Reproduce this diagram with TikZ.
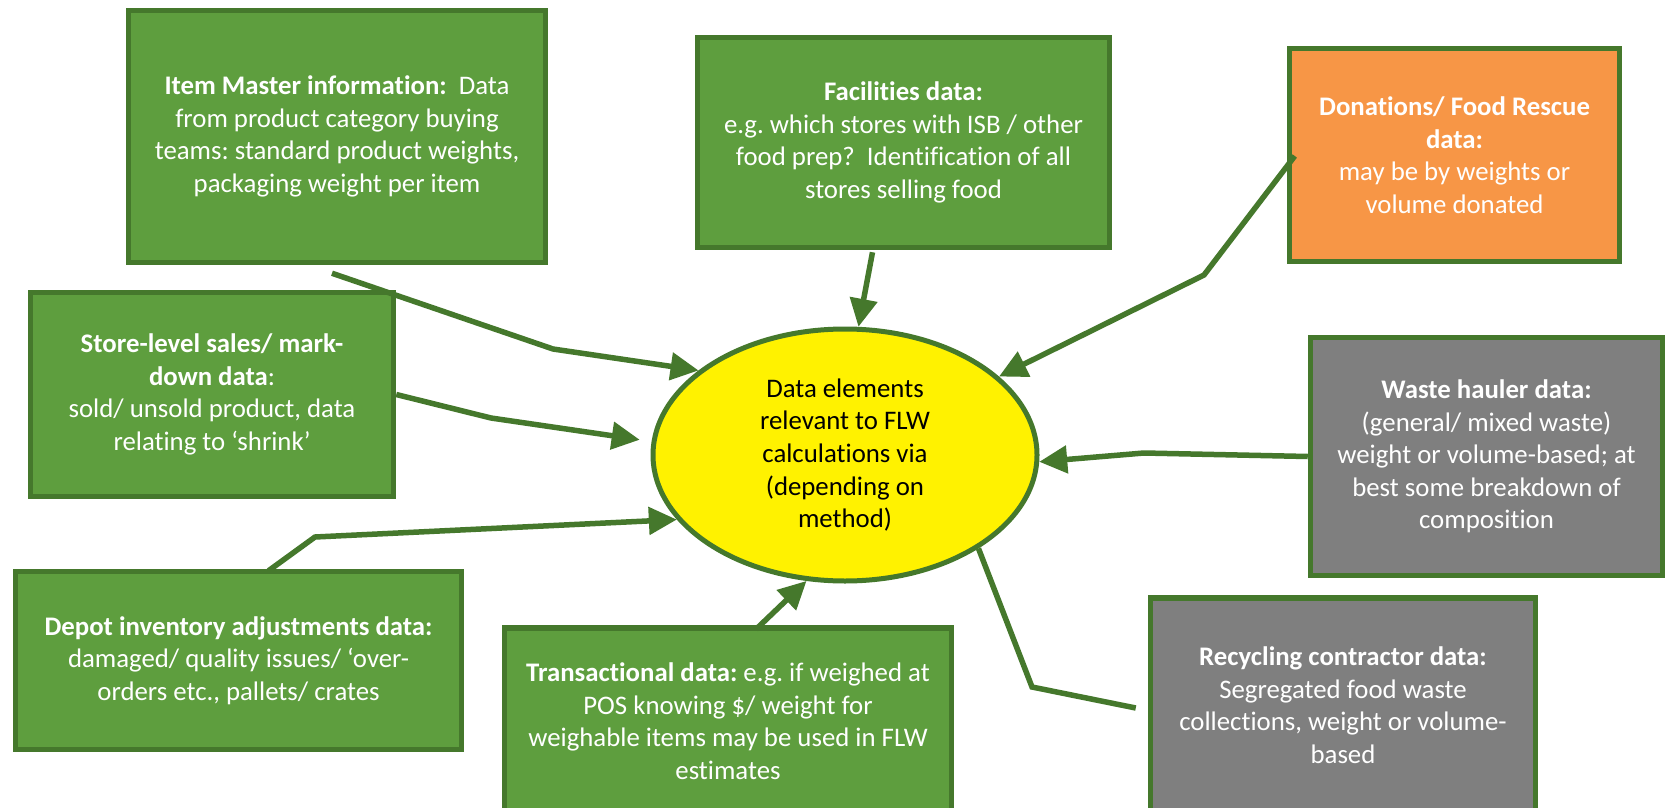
\documentclass[tikz,border=0pt]{standalone}
\usepackage{fontspec}
\setmainfont{Carlito}[Ligatures=NoCommon]
\usetikzlibrary{arrows.meta,calc,shapes.geometric}
\definecolor{boxgreen}{HTML}{5E9E3E}
\definecolor{edgegreen}{HTML}{45782C}
\definecolor{rescue}{HTML}{F79646}
\definecolor{hauler}{HTML}{7F7F7F}
\frenchspacing
\begin{document}
\begin{tikzpicture}[x=1pt,y=-1pt,
  every node/.style={font=\fontsize{26.8}{32.6}\selectfont, align=center, inner sep=0pt},
  srcbox/.style={rectangle, draw=edgegreen, line width=5.5pt, text=white, fill=#1},
  link/.style={draw=edgegreen, line width=5.5pt},
  feed/.style={link, -{Triangle[length=28pt,width=27pt]}},
  hub/.style={ellipse, draw=edgegreen, line width=5pt, fill=yellow, text=black,
    minimum width=384pt, minimum height=252pt}]

\clip (0,0) rectangle (1667,808);
\fill[white] (0,0) rectangle (1667,808);

% source boxes
\node[srcbox=boxgreen, minimum width=417pt, minimum height=252pt] (im) at (337,136.5)
  {\textbf{Item Master information:}\ \ Data\\from product category buying\\teams: standard product weights,\\packaging weight per item};
\node[srcbox=boxgreen, minimum width=412pt, minimum height=210pt] (fac) at (903.5,142.5)
  {\textbf{Facilities data:}\\e.g. which stores with ISB / other\\food prep?\ \ Identification of all\\stores selling food};
\node[srcbox=rescue, minimum width=330pt, minimum height=213pt] (don) at (1454.5,155)
  {\textbf{Donations/ Food Rescue}\\\textbf{data:}\\may be by weights or\\volume donated};
\node[srcbox=boxgreen, minimum width=363pt, minimum height=204pt] (st) at (212,394.5)
  {\textbf{Store-level sales/ mark-}\\\textbf{down data}:\\sold/ unsold product, data\\relating to ‘shrink’};
\node[srcbox=hauler, minimum width=352pt, minimum height=238pt] (wh) at (1486.5,456.5)
  {\textbf{Waste hauler data:}\\(general/ mixed waste)\\weight or volume-based; at\\best some breakdown of\\composition};
\node[srcbox=boxgreen, minimum width=446pt, minimum height=178pt] (dep) at (238.5,660.5)
  {\textbf{Depot inventory adjustments data:}\\damaged/ quality issues/ ‘over-\\orders etc., pallets/ crates};
\node[srcbox=boxgreen, minimum width=447pt, minimum height=186pt] (tr) at (728,721)
  {\textbf{Transactional data:} e.g. if weighed at\\POS knowing \$/ weight for\\weighable items may be used in FLW\\estimates};
\node[srcbox=hauler, minimum width=385pt, minimum height=214pt] (rc) at (1343,705)
  {\textbf{Recycling contractor data:}\\Segregated food waste\\collections, weight or volume-\\based};

% central ellipse
\node[hub] (hub) at (845,455)
  {Data elements\\relevant to FLW\\calculations via\\(depending on\\method)};

% bend points of the connectors
\coordinate (imbend) at (553,349);
\coordinate (donbend) at (1204,275);
\coordinate (stbend) at (491,418);
\coordinate (depbend) at (315,537);
\coordinate (whbend) at (1144,453);
\coordinate (rcbend) at (1032,687);
\coordinate (rcend) at ($(rc.west)+(-12,3)$);

% connectors
\draw[feed] ($(im.south)+(-5,8)$) -- (imbend) -- (hub.150);
\draw[feed] ($(fac.south)+(-31,2)$) -- (hub.84);
\draw[feed] ($(don.west)+(8,1)$) -- (donbend) -- (hub.27);
\draw[feed, shorten >=12pt] (st.east) -- (stbend) -- (hub.176);
\draw[feed] ($(dep.north)+(30,2)$) -- (depbend) -- (hub.201);
\draw[feed] ($(tr.north)+(28,4)$) -- (hub.253);
\draw[feed] (wh.west) -- (whbend) -- (hub.358);
\draw[link] (hub.325) -- (rcbend) -- (rcend);
\end{tikzpicture}
\end{document}
